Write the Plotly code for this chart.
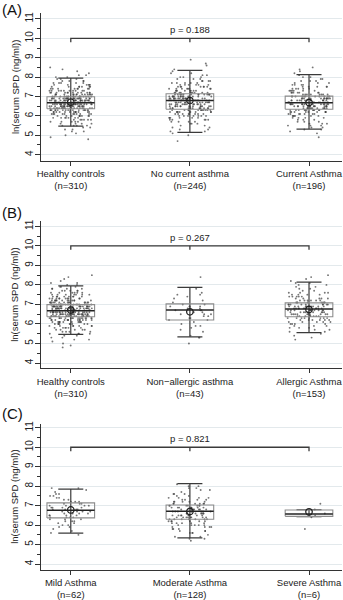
import numpy as np
import plotly.graph_objects as go

# ln(serum SPD) observations, summarised as counts per 0.1-wide bin
bin_centres = [4.7, 4.8, 4.9, 5.0, 5.1, 5.2, 5.3, 5.4, 5.5, 5.6, 5.7, 5.8, 5.9, 6.0, 6.1,
               6.2, 6.3, 6.4, 6.5, 6.6, 6.7, 6.8, 6.9, 7.0, 7.1, 7.2, 7.3, 7.4, 7.5, 7.6,
               7.7, 7.8, 7.9, 8.0, 8.1, 8.2, 8.3, 8.4, 8.5, 8.6, 8.7, 8.8, 8.9]

healthy_counts = [0, 1, 1, 1, 1, 2, 2, 2, 4, 4, 5, 6, 7, 9, 11, 13, 17, 20, 22, 23, 23, 22,
                  20, 17, 14, 12, 10, 8, 7, 6, 5, 4, 3, 2, 2, 1, 1, 1, 1, 0, 0, 0, 0]
no_current_counts = [1, 0, 0, 1, 1, 2, 2, 2, 2, 3, 4, 5, 6, 7, 8, 10, 12, 13, 14, 14, 15, 17,
                     16, 15, 13, 10, 8, 8, 7, 6, 5, 4, 3, 3, 2, 2, 1, 1, 0, 1, 1, 0, 1]
current_counts = [0, 0, 1, 0, 1, 1, 2, 2, 3, 3, 3, 3, 4, 6, 7, 9, 11, 12, 14, 14, 14, 13,
                  12, 11, 8, 7, 6, 5, 5, 4, 3, 3, 2, 2, 1, 1, 1, 1, 1, 0, 0, 0, 0]
non_allergic_counts = [0, 0, 0, 1, 0, 0, 2, 1, 0, 1, 1, 1, 2, 1, 1, 2, 2, 2, 3, 2, 3, 3,
                       4, 2, 1, 1, 1, 1, 2, 1, 0, 1, 0, 0, 0, 0, 0, 1, 0, 0, 0, 0, 0]
allergic_counts = [0, 0, 0, 0, 0, 1, 1, 1, 1, 2, 2, 3, 3, 4, 5, 6, 8, 9, 10, 10, 11, 11,
                   10, 9, 8, 6, 5, 5, 4, 4, 2, 2, 2, 2, 2, 1, 1, 1, 1, 0, 0, 0, 0]
mild_counts = [0, 0, 0, 0, 0, 0, 0, 0, 1, 1, 1, 1, 2, 2, 2, 3, 3, 4, 4, 4, 4, 4,
               4, 4, 3, 3, 2, 2, 2, 2, 1, 1, 2, 0, 0, 0, 0, 0, 0, 0, 0, 0, 0]
moderate_counts = [0, 0, 0, 0, 0, 1, 2, 2, 1, 3, 3, 3, 4, 5, 5, 6, 7, 8, 8, 8, 8, 8,
                   7, 7, 6, 5, 4, 4, 2, 3, 1, 2, 2, 2, 1, 0, 0, 0, 0, 0, 0, 0, 0]
severe_counts = [0, 0, 0, 0, 0, 0, 0, 0, 0, 0, 0, 1, 0, 0, 0, 0, 0, 1, 1, 1, 0, 1,
                 0, 0, 1, 0, 0, 0, 0, 0, 0, 0, 0, 0, 0, 0, 0, 0, 0, 0, 0, 0, 0]

# Group labels and sizes
groups_a = ["Healthy controls", "No current asthma", "Current Asthma"]
groups_b = ["Healthy controls", "Non\u2212allergic asthma", "Allergic Asthma"]
groups_c = ["Mild Asthma", "Moderate Asthma", "Severe Asthma"]
n_a = [310, 246, 196]
n_b = [310, 43, 153]
n_c = [62, 128, 6]

# Box summaries: lower adjacent, Q1, median, Q3, upper adjacent, mean
lower_a = [5.47, 5.15, 5.32]
q1_a = [6.37, 6.34, 6.34]
median_a = [6.68, 6.80, 6.68]
q3_a = [6.99, 7.14, 7.02]
upper_a = [7.95, 8.35, 8.13]
mean_a = [6.71, 6.79, 6.69]

lower_b = [5.47, 5.34, 5.56]
q1_b = [6.37, 6.20, 6.37]
median_b = [6.68, 6.71, 6.76]
q3_b = [6.99, 7.03, 7.08]
upper_b = [7.95, 7.87, 8.14]
mean_b = [6.71, 6.62, 6.74]

lower_c = [5.59, 5.34, 6.43]
q1_c = [6.37, 6.30, 6.45]
median_c = [6.76, 6.71, 6.57]
q3_c = [7.14, 7.03, 6.78]
upper_c = [7.85, 8.13, 6.79]
mean_c = [6.78, 6.70, 6.68]

p_values = ["0.188", "0.267", "0.821"]
panel_labels = ["(A)", "(B)", "(C)"]
y_title = "ln(serum SPD (ng/ml))"

panels = [
    dict(groups=groups_a, n=n_a, counts=[healthy_counts, no_current_counts, current_counts],
         lower=lower_a, q1=q1_a, med=median_a, q3=q3_a, upper=upper_a, mean=mean_a),
    dict(groups=groups_b, n=n_b, counts=[healthy_counts, non_allergic_counts, allergic_counts],
         lower=lower_b, q1=q1_b, med=median_b, q3=q3_b, upper=upper_b, mean=mean_b),
    dict(groups=groups_c, n=n_c, counts=[mild_counts, moderate_counts, severe_counts],
         lower=lower_c, q1=q1_c, med=median_c, q3=q3_c, upper=upper_c, mean=mean_c),
]

# Layout geometry (pixels of a 343x600 page)
W, H = 343, 600
ML, MR, MT, MB = 41, 0, 13, 24
plot_h = H - MT - MB
plot_w = W - ML - MR


def frac_y(px_y):
    return (H - MB - px_y) / plot_h


def frac_x(px_x):
    return (px_x - ML) / plot_w


panel_px = [(13.3, 162.3), (223.3, 372.3), (428.3, 575.7)]
y_ranges = [[3.69, 11.29], [3.72, 11.27], [3.71, 11.20]]
label_mid_px = [9, 215, 417.5]
x_range = [-0.25, 2.277]

BOX_HW = 0.20
CAP_HW = 0.105
JIT_HW = 0.18

GRID = "#e3e9ec"
AXIS = "#333333"
BOX_EDGE = "#8c8c8c"
DARK = "#3a3a3a"
DOT = "rgba(60,60,60,0.7)"
TXT = "#222222"
FONT = "Liberation Sans, Arial, Helvetica, sans-serif"

fig = go.Figure()


def spread(k, seed):
    """Deterministic scrambled offset in [0, 1) for the k-th point of a group."""
    v = np.sin((k + 1) * 12.9898 + seed * 78.233) * 43758.5453
    return v - np.floor(v)


def jitter_points(counts, centre, seed):
    """Uniform sideways jitter of each observation around its category."""
    xs, ys = [], []
    k = 0
    for yv, c in zip(bin_centres, counts):
        for _ in range(c):
            xs.append(centre + (2 * spread(k, seed) - 1) * JIT_HW)
            ys.append(yv)
            k += 1
    return xs, ys


for pi, pan in enumerate(panels):
    xa = "x" if pi == 0 else f"x{pi + 1}"
    ya = "y" if pi == 0 else f"y{pi + 1}"
    for gi in range(3):
        c = gi
        xs, ys = jitter_points(pan["counts"][gi], c, 1.7 * (gi + 1) + 3.1 * pi)
        fig.add_trace(go.Scatter(x=xs, y=ys, mode="markers", xaxis=xa, yaxis=ya,
                                 marker=dict(size=1.9, color=DOT, line=dict(width=0)),
                                 hoverinfo="skip"))
        q1, q3 = pan["q1"][gi], pan["q3"][gi]
        lo, hi = pan["lower"][gi], pan["upper"][gi]
        # whisker spine and caps
        fig.add_trace(go.Scatter(x=[c, c], y=[lo, hi], mode="lines", xaxis=xa, yaxis=ya,
                                 line=dict(color=DARK, width=1.2), hoverinfo="skip"))
        for v in (lo, hi):
            fig.add_trace(go.Scatter(x=[c - CAP_HW, c + CAP_HW], y=[v, v], mode="lines",
                                     xaxis=xa, yaxis=ya, line=dict(color=DARK, width=1.2),
                                     hoverinfo="skip"))
        # interquartile box
        fig.add_trace(go.Scatter(x=[c - BOX_HW, c + BOX_HW, c + BOX_HW, c - BOX_HW, c - BOX_HW],
                                 y=[q1, q1, q3, q3, q1], mode="lines", xaxis=xa, yaxis=ya,
                                 line=dict(color=BOX_EDGE, width=1.1), hoverinfo="skip"))
        # median
        m = pan["med"][gi]
        fig.add_trace(go.Scatter(x=[c - BOX_HW, c + BOX_HW], y=[m, m], mode="lines",
                                 xaxis=xa, yaxis=ya, line=dict(color=TXT, width=1.5),
                                 hoverinfo="skip"))
        # mean
        fig.add_trace(go.Scatter(x=[c], y=[pan["mean"][gi]], mode="markers", xaxis=xa, yaxis=ya,
                                 marker=dict(symbol="circle-open", size=6.5, color=TXT,
                                             line=dict(width=1.3)),
                                 hoverinfo="skip"))
    # significance bracket across the three groups
    fig.add_trace(go.Scatter(x=[0, 0, 2, 2], y=[9.8, 10, 10, 9.8], mode="lines",
                             xaxis=xa, yaxis=ya, line=dict(color=DARK, width=1.3),
                             hoverinfo="skip"))
    fig.add_trace(go.Scatter(x=[1, 1], y=[10, 9.8], mode="lines",
                             xaxis=xa, yaxis=ya, line=dict(color=DARK, width=1.3),
                             hoverinfo="skip"))
    fig.add_annotation(x=1, y=10.45, xref=xa, yref=ya, text=f"p = {p_values[pi]}",
                       showarrow=False, font=dict(size=9.5, color=TXT))
    fig.add_annotation(x=frac_x(0), y=frac_y(label_mid_px[pi]), xref="paper", yref="paper",
                       xanchor="left", yanchor="middle", text=panel_labels[pi],
                       showarrow=False, font=dict(size=15, color="#111111"))

    top_px, bot_px = panel_px[pi]
    fig.add_annotation(x=frac_x(15), y=frac_y((top_px + bot_px) / 2), xref="paper",
                       yref="paper", xanchor="center", yanchor="middle", textangle=-90,
                       text=y_title, showarrow=False, font=dict(size=9.5, color=TXT))

    ticktext = [f"{g}<br>(n={n})" for g, n in zip(pan["groups"], pan["n"])]
    xkey = "xaxis" if pi == 0 else f"xaxis{pi + 1}"
    ykey = "yaxis" if pi == 0 else f"yaxis{pi + 1}"
    fig.update_layout(**{
        xkey: dict(domain=[0, 1], anchor=ya, range=x_range, tickvals=[0, 1, 2],
                   ticktext=ticktext, ticks="outside", ticklen=4, tickcolor=AXIS,
                   showline=True, linecolor=AXIS, linewidth=1, showgrid=False,
                   zeroline=False, ticklabeloverflow="allow",
                   tickfont=dict(size=9.5, color=TXT)),
        ykey: dict(domain=[max(0, frac_y(bot_px)), min(1, frac_y(top_px))], anchor=xa,
                   range=y_ranges[pi], tickvals=list(range(4, 12)), tickangle=-90,
                   ticks="outside", ticklen=5, tickcolor=AXIS, showline=True,
                   linecolor=AXIS, linewidth=1, showgrid=True, gridcolor=GRID,
                   gridwidth=1, zeroline=False, tickfont=dict(size=10, color=TXT),
                   ticklabelstandoff=-2,
                   minor=dict(tickmode="linear", tick0=4, dtick=0.5, ticks="outside",
                              ticklen=3, tickcolor=AXIS, showgrid=False)),
    })

fig.update_layout(width=W, height=H, margin=dict(l=ML, r=MR, t=MT, b=MB),
                  plot_bgcolor="white", paper_bgcolor="white", showlegend=False,
                  font=dict(family=FONT, size=10, color=TXT))

fig.write_html("out.html")
